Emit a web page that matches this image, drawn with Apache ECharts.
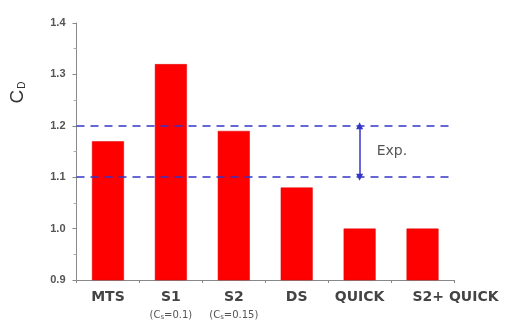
<!DOCTYPE html>
<html>
<head>
<meta charset="utf-8">
<style>
  html, body { margin: 0; padding: 0; background: #fff; }
  #chart { width: 507px; height: 321px; }
</style>
<script src="https://cdn.jsdelivr.net/npm/echarts@6/dist/echarts.min.js"></script>
</head>
<body>
<div id="chart"></div>
<script>
// Drag coefficient by model
const categories = ['MTS', 'S1', 'S2', 'DS', 'QUICK', 'S2+ QUICK'];
const cdValues = [1.17, 1.32, 1.19, 1.08, 1.00, 1.00];
// Sub-labels under the Smagorinsky cases (C_s constant)
const csLabels = { 'S1': '0.1', 'S2': '0.15' };
// Experimental band
const expLow = 1.1;
const expHigh = 1.2;
const yTicks = { min: 0.9, max: 1.4, interval: 0.1 };

const chart = echarts.init(document.getElementById('chart'));
const SANS = '"DejaVu Sans", sans-serif';
const ARIAL = '"Liberation Sans", Arial, sans-serif';
const BLUE = '#3434c8';
const TXT = '#444';

chart.setOption({
  animation: false,
  grid: { left: 76, right: 53, top: 23, bottom: 41 },
  xAxis: {
    type: 'category',
    data: categories,
    axisLine: { lineStyle: { color: '#888', width: 1 } },
    axisTick: { show: true, length: 3, lineStyle: { color: '#888' } },
    axisLabel: {
      color: TXT,
      margin: 9,
      interval: 0,
      formatter: function (v) {
        if (csLabels[v]) {
          return '{m|' + v + '}\n{s|(C}{sub|s}{s|=' + csLabels[v] + ')}';
        }
        if (v === 'S2+ QUICK') return '{w|' + v + '}';
        return '{m|' + v + '}';
      },
      rich: {
        m: { fontSize: 14, fontWeight: 'bold', fontFamily: SANS, color: TXT, lineHeight: 16 },
        w: { fontSize: 14, fontWeight: 'bold', fontFamily: SANS, color: TXT, lineHeight: 16, padding: [0, 0, 0, 66] },
        s: { fontSize: 10, fontFamily: SANS, color: '#555', lineHeight: 21 },
        sub: { fontSize: 7, fontFamily: SANS, color: '#555', lineHeight: 21, padding: [4, 0, 0, 0] }
      }
    },
    splitLine: { show: false }
  },
  yAxis: {
    type: 'value',
    min: yTicks.min,
    max: yTicks.max,
    interval: yTicks.interval,
    name: '{c|C}{d|D}',
    nameLocation: 'middle',
    nameRotate: 90,
    nameGap: 49,
    nameTextStyle: {
      padding: [0, 0, 0, 118],
      rich: {
        c: { fontSize: 19, fontFamily: ARIAL, color: '#333' },
        d: { fontSize: 10, fontFamily: ARIAL, color: '#333', padding: [10, 0, 0, 1] }
      }
    },
    axisLine: { show: true, lineStyle: { color: '#888', width: 1 } },
    axisTick: { show: true, length: 4, lineStyle: { color: '#888' } },
    minorTick: { show: true, splitNumber: 2, length: 3, lineStyle: { color: '#aaa' } },
    axisLabel: {
      color: '#555',
      fontFamily: ARIAL,
      fontWeight: 'bold',
      fontSize: 11,
      margin: 11,
      formatter: function (v) { return v.toFixed(1); }
    },
    splitLine: { show: false }
  },
  series: [{
    type: 'bar',
    data: cdValues,
    barWidth: 32,
    itemStyle: { color: '#ff0000', borderColor: '#dd0000', borderWidth: 0.5 },
    markLine: {
      silent: true,
      symbol: 'none',
      label: { show: false },
      lineStyle: { color: BLUE, type: [8, 6], width: 1.5 },
      data: [
        { yAxis: expHigh },
        { yAxis: expLow },
        [
          { coord: ['QUICK', expHigh], symbol: 'triangle', symbolSize: [7, 7],
            lineStyle: { type: 'solid', width: 1.5, color: BLUE } },
          { coord: ['QUICK', expLow], symbol: 'triangle', symbolSize: [7, 7] }
        ]
      ]
    },
    markPoint: {
      silent: true,
      symbol: 'circle',
      symbolSize: 0,
      label: {
        show: true,
        position: 'right',
        distance: 17,
        formatter: 'Exp.',
        color: '#555',
        fontFamily: SANS,
        fontSize: 14
      },
      data: [{ coord: ['QUICK', (expLow + expHigh) / 2] }]
    }
  }]
});
</script>
</body>
</html>
